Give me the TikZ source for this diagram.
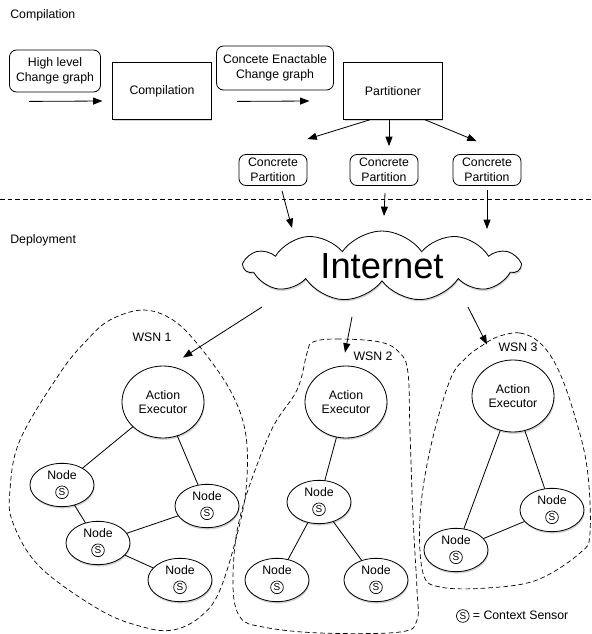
\documentclass[tikz,border=0pt]{standalone}
\usepackage{fontspec}
\setmainfont{Liberation Sans}
\usetikzlibrary{shapes.geometric,shapes.symbols,shadows,calc,arrows.meta}
\newcommand{\sens}{\tikz[baseline=(s.base)]\node[circle, draw, line width=0.6pt, inner sep=0pt,
    minimum size=0.38cm, font=\fontsize{8.5}{9}\selectfont] (s) {S};}

\begin{document}
\begin{tikzpicture}[
                x=0.03cm, y=-0.03cm, line width=0.7pt,
                every node/.style={font=\fontsize{10.5}{12.5}\selectfont},
                shdw/.style={drop shadow={shadow xshift=0.6pt,shadow yshift=-1.6pt,opacity=0.35}},
                box/.style={draw, fill=white, shdw, minimum width=2.95cm, minimum height=1.7cm},
                rbox/.style={draw, rounded corners=6pt, align=center, inner sep=1pt},
                ae/.style={ellipse, draw, fill=white, shdw, align=center, inner sep=0pt,
                    minimum width=2.46cm, minimum height=2.16cm},
                sn/.style={ellipse, draw, fill=white, shdw, align=center, inner sep=0pt,
                    minimum width=1.92cm, minimum height=1.3cm},
                arr/.style={-{Triangle[length=8pt,width=6pt]}},
                wsn/.style={dash pattern=on 4pt off 2.5pt, line width=0.6pt}
            ]
                \useasboundingbox (0,0) rectangle (592,634);
                \node[anchor=west] (ttlc) at (6,15) {Compilation};
                \node[rbox, minimum width=2.73cm, minimum height=1.26cm] (hl) at (55,71) {High level\\Change graph};
                \node[box] (comp) at (162,91) {Compilation};
                \node[rbox, minimum width=3.51cm, minimum height=1.32cm] (ce) at (275,68) {Concete Enactable\\Change graph};
                \node[box] (part) at (393,91) {Partitioner};
                \node[rbox, minimum width=2.04cm, minimum height=0.93cm] (cp1) at (273,170) {Concrete\\Partition};
                \node[rbox, minimum width=2.04cm, minimum height=0.93cm] (cp2) at (384,170) {Concrete\\Partition};
                \node[rbox, minimum width=2.04cm, minimum height=0.93cm] (cp3) at (487,170) {Concrete\\Partition};
                \draw[arr] ($(hl.south west)+(20,9)$) -- ($(comp.west)+(-10,10)$);
                \draw[arr] ($(ce.south west)+(21,11)$) -- ($(part.west)+(-34,10)$);
                \draw[arr] ($(part.south)+(-23,0)$) -- ($(cp1.north east)+(0,-15)$);
                \draw[arr] ($(part.south)+(-4,0)$) -- ($(cp2.north)+(5,-8)$);
                \draw[arr] ($(part.south)+(32,0)$) -- ($(cp3.north west)+(24,-13)$);

                \coordinate (sepl) at (0,199);
                \coordinate (sepr) at (592,199);
                \draw[wsn] (sepl) -- (sepr);

                \node[anchor=west] (ttld) at (6,240) {Deployment};
                \node[cloud, cloud puffs=11, cloud puff arc=110, aspect=4, draw, fill=white, shdw, inner sep=0pt,
                    minimum width=8.25cm, minimum height=2.1cm, font=\fontsize{31}{36}\selectfont] (net) at (382,266) {Internet};
                \draw[arr] ($(cp1.south)+(9,5)$) -- ($(net.center)+(-90,-38)$);
                \draw[arr] ($(cp2.south)+(1,7)$) -- ($(net.center)+(2,-50)$);
                \draw[arr] ($(cp3.south)+(0,4)$) -- ($(net.center)+(105,-37)$);

                \draw[wsn] plot[smooth cycle, tension=0.6] coordinates {(110,320) (143,310) (173,320) (200,347) (230,390)
                    (245,430) (247,477) (240,523) (220,590) (200,617) (173,630) (143,627) (100,610) (40,567)
                    (13,523) (10,490) (20,440) (60,373) (87,340)};
                \draw[wsn] plot[smooth cycle, tension=0.6] coordinates {(313,342) (337,339) (380,342) (400,353) (408,373)
                    (410,433) (413,517) (417,590) (417,620) (400,632) (320,633) (263,627) (240,617) (233,583)
                    (240,517) (270,433) (297,390) (307,353)};
                \draw[wsn] plot[smooth cycle, tension=0.6] coordinates {(497,337) (520,333) (540,343) (557,367) (573,410)
                    (587,467) (590,533) (580,553) (537,580) (487,588) (440,587) (423,573) (420,517) (430,450)
                    (450,380) (467,357) (480,347)};
                \node (wsn1) at (152,337) {WSN 1};
                \node (wsn2) at (373,356) {WSN 2};
                \node (wsn3) at (518,347) {WSN 3};

                \node[ae] (ae1) at (163,402) {Action\\Executor};
                \node[sn] (n11) at (62,485) {Node\\[1pt]\sens};
                \node[sn] (n12) at (207,506) {Node\\[1pt]\sens};
                \node[sn] (n13) at (98,543) {Node\\[1pt]\sens};
                \node[sn] (n14) at (180,580) {Node\\[1pt]\sens};
                \draw (ae1) -- (n11);
                \draw (ae1) -- (n12);
                \draw (n11) -- (n13);
                \draw (n13) -- (n12);
                \draw (n13) -- (n14);

                \node[ae] (ae2) at (346,402) {Action\\Executor};
                \node[sn] (n21) at (319,502) {Node\\[1pt]\sens};
                \node[sn] (n22) at (277,580) {Node\\[1pt]\sens};
                \node[sn] (n23) at (376,580) {Node\\[1pt]\sens};
                \draw (ae2) -- (n21);
                \draw (n21) -- (n22);
                \draw (n21) -- (n23);

                \node[ae] (ae3) at (513,396) {Action\\Executor};
                \node[sn] (n31) at (552,510) {Node\\[1pt]\sens};
                \node[sn] (n32) at (456,550) {Node\\[1pt]\sens};
                \draw (ae3) -- (n32);
                \draw (ae3) -- (n31);
                \draw (n32) -- (n31);

                \draw[arr] ($(net.center)+(-120,41)$) -- ($(ae1.north)+(20,-8)$);
                \draw[arr] ($(net.center)+(-30,51)$) -- ($(ae2.north)+(-1,-13)$);
                \draw[arr] ($(net.center)+(86,41)$) -- ($(ae3.north)+(-26,-15)$);

                \node[anchor=west] (leg) at (452,616) {\sens{} = Context Sensor};
            \end{tikzpicture}
\end{document}
